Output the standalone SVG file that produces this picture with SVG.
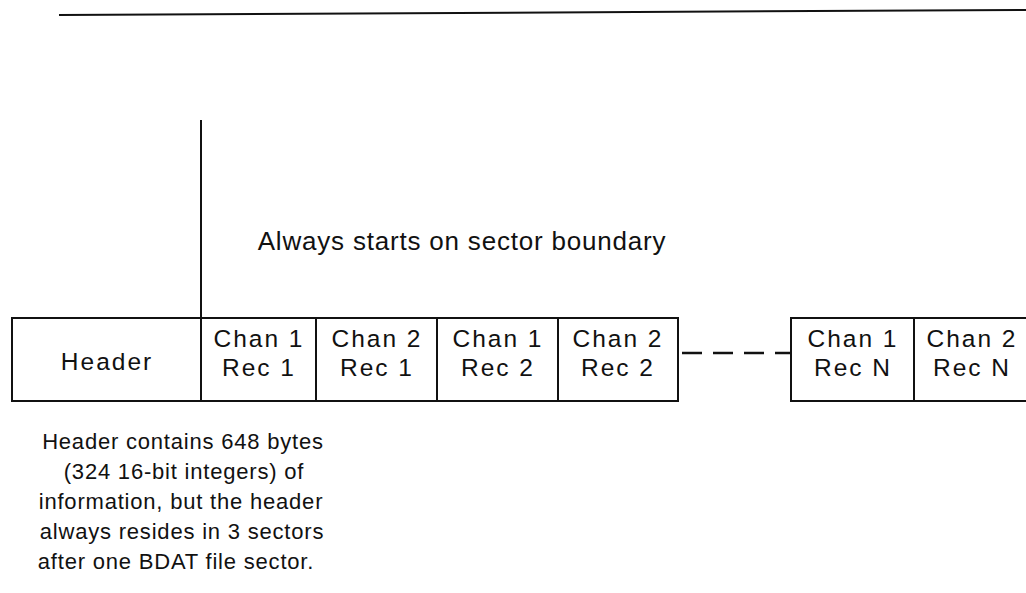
<svg xmlns="http://www.w3.org/2000/svg" width="1026" height="593" viewBox="0 0 1026 593">
<style>
.ln{stroke:#111;stroke-width:2;fill:none}
.box{stroke:#111;stroke-width:2;fill:#fff}
.t{font-family:"Liberation Sans",Arial,sans-serif;font-size:24.5px;letter-spacing:2px;fill:#111;text-anchor:middle}
.l{font-family:"Liberation Sans",Arial,sans-serif;font-size:26px;letter-spacing:0.8px;fill:#111;text-anchor:middle}
.n{font-family:"Liberation Sans",Arial,sans-serif;font-size:22px;letter-spacing:0.8px;fill:#111;text-anchor:middle}
.d{stroke:#111;stroke-width:2.5;fill:none;stroke-dasharray:20 11}
</style>
<rect width="1026" height="593" fill="#fff"/>
<g id="topline"><line class="ln" x1="59" y1="15" x2="1026" y2="10" stroke-width="2.5"/></g>
<g id="connectors">
<line class="ln" x1="201" y1="120" x2="201" y2="318"/>
<line class="d" x1="682" y1="353" x2="791" y2="353"/>
</g>
<g id="header"><rect class="box" x="12" y="318" width="189" height="83"/><text class="t" x="107" y="370" letter-spacing="1.5">Header</text></g>
<g id="c1r1"><rect class="box" x="201" y="318" width="115" height="83"/><text class="t" x="259" y="347">Chan 1</text><text class="t" x="259" y="376">Rec 1</text></g>
<g id="c2r1"><rect class="box" x="316" y="318" width="121" height="83"/><text class="t" x="377" y="347">Chan 2</text><text class="t" x="377" y="376">Rec 1</text></g>
<g id="c1r2"><rect class="box" x="437" y="318" width="121" height="83"/><text class="t" x="498" y="347">Chan 1</text><text class="t" x="498" y="376">Rec 2</text></g>
<g id="c2r2"><rect class="box" x="558" y="318" width="120" height="83"/><text class="t" x="618" y="347">Chan 2</text><text class="t" x="618" y="376">Rec 2</text></g>
<g id="c1rn"><rect class="box" x="791" y="318" width="123" height="83"/><text class="t" x="853" y="347">Chan 1</text><text class="t" x="853" y="376">Rec N</text></g>
<g id="c2rn"><path class="ln" d="M914,318 H1030 M914,401 H1030"/><text class="t" x="972" y="347">Chan 2</text><text class="t" x="972" y="376">Rec N</text></g>
<g id="label-sector"><text class="l" x="462" y="250">Always starts on sector boundary</text></g>
<g id="note">
<text class="n" x="183" y="449">Header contains 648 bytes</text>
<text class="n" x="184" y="479">(324 16-bit integers) of</text>
<text class="n" x="181" y="509">information, but the header</text>
<text class="n" x="182" y="539">always resides in 3 sectors</text>
<text class="n" x="176" y="569">after one BDAT file sector.</text>
</g>
</svg>
